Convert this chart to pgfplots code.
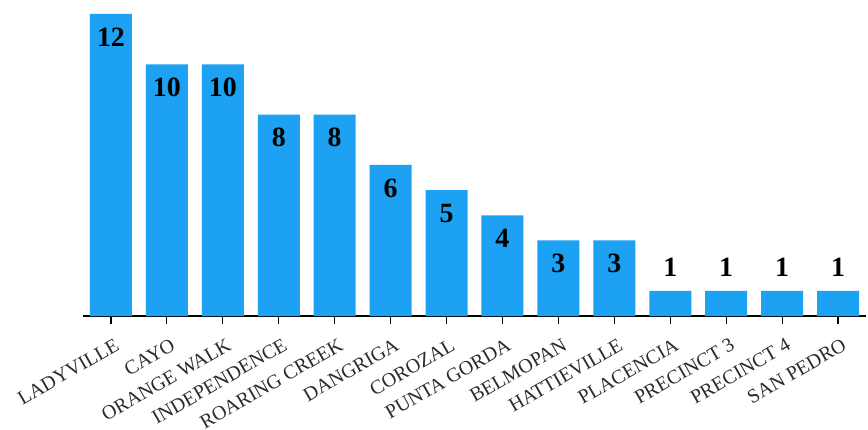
\documentclass[border=0pt]{standalone}
\usepackage{pgfplots}
\pgfplotsset{compat=1.18}
\usepackage{fontspec}
\setmainfont{Liberation Serif}
\definecolor{barblue}{HTML}{1DA1F2}
\definecolor{lblgray}{HTML}{2B2B2B}
\begin{document}
\begin{tikzpicture}
\begin{axis}[
  scale only axis,
  width=783bp, height=316bp,
  xmin=-0.5, xmax=13.5,
  ymin=0, ymax=12.555,
  axis x line*=bottom,
  axis y line=none,
  x axis line style={black, line width=1.3bp, -},
  xtick={0,...,13},
  xticklabels={LADYVILLE,CAYO,ORANGE WALK,INDEPENDENCE,ROARING CREEK,DANGRIGA,COROZAL,PUNTA GORDA,BELMOPAN,HATTIEVILLE,PLACENCIA,PRECINCT 3,PRECINCT 4,SAN PEDRO},
  xticklabel style={rotate=30, anchor=north east, font=\fontsize{20}{20}\selectfont, text=lblgray, inner sep=1bp, xshift=-3bp, yshift=-12bp},
  tick align=outside,
  major tick length=8bp,
  tick style={black, line width=1.2bp},
  ybar, bar width=42bp,
  clip=false,
  /pgf/number format/assume math mode=true,
  nodes near coords={\textbf{\pgfmathprintnumber{\pgfplotspointmeta}}},
]
\coordinate (O) at (rel axis cs:0,0);
\addplot[fill=barblue, draw=none, bar shift=0pt,
  every node near coord/.append style={anchor=center, yshift=-23bp, font=\fontsize{28}{28}\selectfont, text=black}]
  coordinates {(0,12) (1,10) (2,10) (3,8) (4,8) (5,6) (6,5) (7,4) (8,3) (9,3)};
\addplot[fill=barblue, draw=none, bar shift=0pt,
  every node near coord/.append style={anchor=center, yshift=24bp, font=\fontsize{28}{28}\selectfont, text=black}]
  coordinates {(10,1) (11,1) (12,1) (13,1)};
\end{axis}
\pgfresetboundingbox
\path (O) ++(-83bp,-114bp) rectangle ++(868bp,430bp);
\end{tikzpicture}
\end{document}
